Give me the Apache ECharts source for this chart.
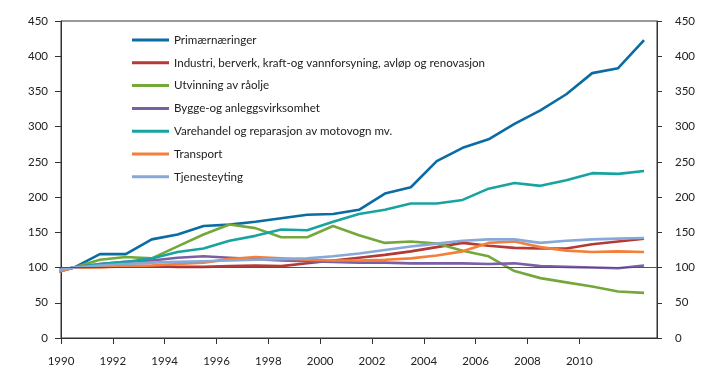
<!DOCTYPE html>
<html>
<head>
<meta charset="utf-8">
<script src="https://cdn.jsdelivr.net/npm/echarts@6/dist/echarts.min.js"></script>
<style>html,body{margin:0;padding:0;background:#fff}#c{width:720px;height:382px}</style>
</head>
<body>
<div id="c"></div>
<script>
// Years (1989 is outside the visible axis range and gets clipped at the left edge)
const years = [1989,1990,1991,1992,1993,1994,1995,1996,1997,1998,1999,2000,2001,2002,2003,2004,2005,2006,2007,2008,2009,2010,2011,2012];
const xTickLabels = [1990,1992,1994,1996,1998,2000,2002,2004,2006,2008,2010];
const yTicks = [0,50,100,150,200,250,300,350,400,450];

const seriesNames = [
  'Primærnæringer',
  'Industri, berverk, kraft-og vannforsyning, avløp og renovasjon',
  'Utvinning av råolje',
  'Bygge-og anleggsvirksomhet',
  'Varehandel og reparasjon av motovogn mv.',
  'Transport',
  'Tjenesteyting'
];

const primaer    = [90,100,119,119,140,147,159,161,165,170,175,176,182,205,214,251,270,282,304,323,346,376,383,423];
const industri   = [91,100,101,102,102,101,101,102,103,102,106,110,114,118,123,129,135,131,128,127,127,133,137,141];
const utvinning  = [94,100,111,115,113,130,147,161,156,143,143,159,146,135,137,134,124,116,95,85,79,73,66,64];
const bygge      = [94,100,105,108,110,114,116,114,112,110,109,108,107,107,106,106,106,105,106,102,101,100,99,103];
const varehandel = [92,100,105,108,113,122,127,138,145,154,153,165,176,182,191,191,196,212,220,216,224,234,233,237];
const transport  = [90,100,100,102,103,105,107,112,115,113,111,110,110,111,113,117,123,135,137,129,124,122,123,122];
const tjeneste   = [94,100,103,105,107,108,109,110,111,112,113,116,120,125,130,134,138,140,140,135,138,140,141,142];

const colors = ['#0b6ba3','#b43a35','#74a83b','#7b5fa5','#17a4a0','#f47f38','#87a9d9'];
const allData = [primaer, industri, utvinning, bygge, varehandel, transport, tjeneste];

const font = 'Lato';
const chart = echarts.init(document.getElementById('c'), null, {renderer:'canvas'});

const series = allData.map((vals, i) => ({
  name: seriesNames[i],
  type: 'line',
  data: years.map((y, k) => [y + 0.5, vals[k]]),
  showSymbol: false,
  symbol: 'none',
  clip: true,
  lineStyle: {color: colors[i], width: 2.6},
  itemStyle: {color: colors[i]},
  emphasis: {disabled: true},
  z: 3
}));
series.push({
  type: 'line',
  data: [],
  markLine: {
    silent: true,
    symbol: 'none',
    label: {show: false},
    lineStyle: {color: '#555', width: 1, type: 'solid'},
    data: [{yAxis: 100}]
  },
  z: 1
});

chart.setOption({
  animation: false,
  backgroundColor: '#fff',
  textStyle: {fontFamily: font},
  grid: {left: 61, right: 63, top: 21, bottom: 44, show: true, borderColor: '#333', borderWidth: 1, backgroundColor: 'transparent'},
  legend: {
    orient: 'vertical',
    left: 127,
    top: 28,
    icon: 'rect',
    itemWidth: 37,
    itemHeight: 3,
    itemGap: 8.8,
    textStyle: {fontFamily: font, fontSize: 11.6, color: '#222', padding: [0,0,0,0], lineHeight: 14},
    data: seriesNames
  },
  xAxis: {
    type: 'value',
    min: 1990,
    max: 2013,
    axisLine: {show: true, lineStyle: {color: '#333'}},
    axisTick: {show: true, length: 6, lineStyle: {color: '#333'}, customValues: xTickLabels},
    axisLabel: {customValues: xTickLabels, color: '#222', fontSize: 11.5, fontFamily: font, margin: 17, formatter: v => String(v)},
    splitLine: {show: false}
  },
  yAxis: [
    {
      type: 'value', min: 0, max: 450, interval: 50, position: 'left',
      axisLine: {show: true, lineStyle: {color: '#333'}},
      axisTick: {show: true, length: 6, lineStyle: {color: '#333'}},
      axisLabel: {color: '#222', fontSize: 11.5, fontFamily: font, margin: 13},
      splitLine: {show: false}
    },
    {
      type: 'value', min: 0, max: 450, interval: 50, position: 'right',
      axisLine: {show: true, lineStyle: {color: '#333'}},
      axisTick: {show: true, length: 5, lineStyle: {color: '#333'}},
      axisLabel: {color: '#222', fontSize: 11.5, fontFamily: font, margin: 18},
      splitLine: {show: false}
    }
  ],
  series: series
});
</script>
</body>
</html>
